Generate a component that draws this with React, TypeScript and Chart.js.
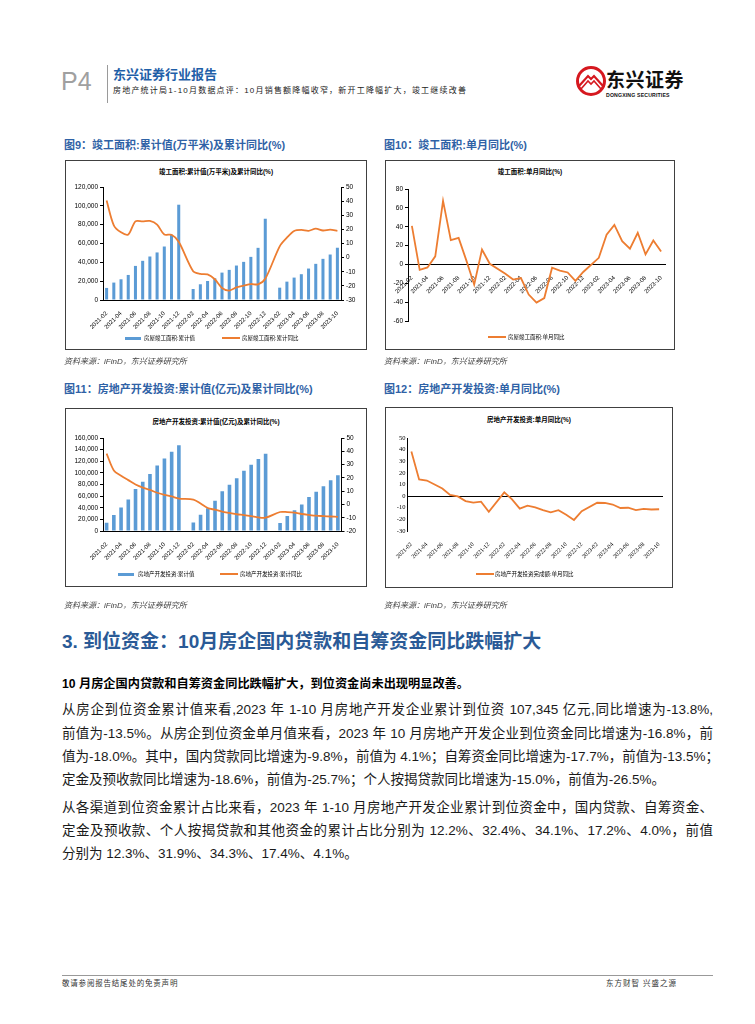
import React, { useEffect, useRef } from "react";
import { Chart, registerables } from "chart.js";

Chart.register(...registerables);

// ---------- data ----------
const categories = [
  "2021-02", "2021-03", "2021-04", "2021-05", "2021-06", "2021-07", "2021-08", "2021-09", "2021-10", "2021-11", "2021-12",
  "2022-01", "2022-02", "2022-03", "2022-04", "2022-05", "2022-06", "2022-07", "2022-08", "2022-09", "2022-10", "2022-11", "2022-12",
  "2023-01", "2023-02", "2023-03", "2023-04", "2023-05", "2023-06", "2023-07", "2023-08", "2023-09", "2023-10",
];

// 图9 竣工面积 累计值(万平米)
const completionCumValue = [
  12800, 18500, 22000, 26600, 36200, 41600, 46200, 50500, 56800, 69300, 101200,
  null,
  11700, 16700, 20200, 23100, 29100, 32000, 36600, 40500, 45800, 55400, 86300,
  null,
  13100, 19500, 23800, 27400, 33400, 38400, 43700, 48300, 55500,
];
// 图9 竣工面积 累计同比(%)
const completionCumYoY = [
  40.4, 22.9, 17.9, 16.4, 25.7, 25.7, 26.0, 23.4, 16.3, 16.2, 11.2,
  null,
  -9.6, -11.5, -11.9, -15.3, -21.5, -23.3, -21.1, -19.9, -18.7, -18.9, -15.0,
  null,
  8.0, 14.1, 18.8, 19.6, 19.0, 20.5, 19.2, 19.8, 19.0,
];
// 图10 竣工面积 单月同比(%)
const completionMonthlyYoY = [
  40.8, -5.7, -3.2, 8.6, 67.5, 25.7, 28.2, 4.0, -21.5, 15.7, 0.7,
  null,
  -10.0, -16.0, -14.5, -32.0, -40.5, -35.7, -3.5, -6.5, -8.5, -17.5, -8.0,
  null,
  7.0, 31.6, 42.0, 24.6, 16.7, 33.6, 10.7, 25.4, 13.6,
];
// 图11 房地产开发投资 累计值(亿元)
const investCumValue = [
  13986, 27576, 40240, 54318, 72179, 84895, 98060, 112568, 124934, 136443, 147602,
  null,
  14499, 27765, 39154, 52134, 68314, 79462, 90809, 103559, 113945, 123863, 132895,
  null,
  13669, 25974, 35514, 45701, 58550, 67717, 76900, 87269, 95922,
];
// 图11 房地产开发投资 累计同比(%)
const investCumYoY = [
  38.3, 25.6, 21.6, 18.3, 15.0, 12.7, 10.9, 8.8, 7.2, 6.0, 4.4,
  null,
  3.7, 0.7, -2.7, -4.0, -5.4, -6.4, -7.4, -8.0, -8.8, -9.8, -10.0,
  null,
  -5.7, -5.8, -6.2, -7.2, -7.9, -8.5, -8.8, -9.1, -9.3,
];
// 图12 房地产开发投资 单月同比(%)
const investMonthlyYoY = [
  38.3, 14.3, 13.4, 10.0, 6.6, 1.0, -0.3, -4.3, -5.6, -4.8, -13.4,
  null,
  3.2, -2.8, -10.8, -8.2, -9.6, -12.0, -14.0, -12.1, -16.1, -20.5, -13.0,
  null,
  -5.7, -5.9, -7.2, -10.2, -10.0, -12.0, -10.9, -11.5, -11.3,
];

const leftTicks9 = { min: 0, max: 120000, step: 20000 };
const rightTicks9 = { min: -30, max: 50, step: 10 };
const ticks10 = { min: -60, max: 80, step: 20 };
const leftTicks11 = { min: 0, max: 160000, step: 20000 };
const rightTicks11 = { min: -20, max: 50, step: 10 };
const ticks12 = { min: -30, max: 50, step: 10 };

// ---------- styles ----------
const BLUE_BAR = "#5b9bd5";
const ORANGE = "#ed7d31";
const SANS = '"Liberation Sans", "Noto Sans CJK SC", sans-serif';
const SERIF = '"Liberation Serif", "Noto Sans CJK SC", serif';
const CJK = '"Liberation Sans", "Noto Sans CJK SC", sans-serif';
const TITLE_BLUE = "#2f62a6";

const xTickCallback = (_v: any, i: number) => (i % 2 === 0 ? categories[i] : "");

function xAxis(extra: any, family: string, height: number) {
  return {
    offset: true,
    grid: { display: false },
    border: { display: true, color: "#000", width: 1 },
    ticks: {
      autoSkip: false,
      minRotation: 45,
      maxRotation: 45,
      padding: 2,
      color: "#000",
      font: { family, size: 6 },
      callback: xTickCallback,
    },
    afterFit: (s: any) => {
      s.height = height;
    },
    ...extra,
  };
}

function yAxis(r: { min: number; max: number; step: number }, position: string, width: number, fmt?: (v: number) => string, family = SANS, extra: any = {}) {
  return {
    position,
    min: r.min,
    max: r.max,
    grid: { drawOnChartArea: false, drawTicks: true, tickLength: 3, color: "#000" },
    border: { display: true, color: "#000", width: 1 },
    ticks: {
      stepSize: r.step,
      padding: 2,
      color: "#000",
      font: { family, size: 6.5 },
      callback: (v: any) => (fmt ? fmt(Number(v)) : String(v)),
    },
    afterFit: (s: any) => {
      s.width = width;
    },
    ...extra,
  };
}

const comma = (v: number) => v.toLocaleString("en-US");

const baseOptions = (padding: any) => ({
  responsive: true,
  maintainAspectRatio: false,
  animation: false as const,
  layout: { padding },
  plugins: { legend: { display: false }, title: { display: false }, tooltip: { enabled: false } },
});

function config9() {
  return {
    type: "bar",
    data: {
      labels: categories,
      datasets: [
        {
          type: "line",
          label: "房屋竣工面积:累计同比",
          data: completionCumYoY,
          yAxisID: "y1",
          borderColor: ORANGE,
          borderWidth: 1.8,
          pointRadius: 0,
          spanGaps: true,
          tension: 0.3,
          order: 1,
        },
        {
          type: "bar",
          label: "房屋竣工面积:累计值",
          data: completionCumValue,
          yAxisID: "y",
          backgroundColor: BLUE_BAR,
          barPercentage: 0.42,
          categoryPercentage: 1,
          order: 2,
        },
      ],
    },
    options: {
      ...baseOptions({ top: 26, bottom: 19, left: 0, right: 0 }),
      scales: {
        x: xAxis({}, SANS, 30),
        y: yAxis(leftTicks9, "left", 37, comma),
        y1: yAxis(rightTicks9, "right", 25),
      },
    },
  };
}

function config10() {
  return {
    type: "line",
    data: {
      labels: categories,
      datasets: [
        {
          label: "房屋竣工面积:单月同比",
          data: completionMonthlyYoY,
          borderColor: ORANGE,
          borderWidth: 1.8,
          pointRadius: 0,
          spanGaps: true,
          tension: 0,
        },
      ],
    },
    options: {
      ...baseOptions({ top: 28, bottom: 28, left: 0, right: 9 }),
      scales: {
        x: xAxis({ position: { y: 0 } }, SANS, 30),
        y: yAxis(ticks10, "left", 22),
      },
    },
  };
}

function config11() {
  return {
    type: "bar",
    data: {
      labels: categories,
      datasets: [
        {
          type: "line",
          label: "房地产开发投资:累计同比",
          data: investCumYoY,
          yAxisID: "y1",
          borderColor: ORANGE,
          borderWidth: 1.8,
          pointRadius: 0,
          spanGaps: true,
          tension: 0.3,
          order: 1,
        },
        {
          type: "bar",
          label: "房地产开发投资:累计值",
          data: investCumValue,
          yAxisID: "y",
          backgroundColor: BLUE_BAR,
          barPercentage: 0.5,
          categoryPercentage: 1,
          order: 2,
        },
      ],
    },
    options: {
      ...baseOptions({ top: 29, bottom: 25, left: 0, right: 0 }),
      scales: {
        x: xAxis({}, SANS, 30),
        y: yAxis(leftTicks11, "left", 37, comma),
        y1: yAxis(rightTicks11, "right", 24.5),
      },
    },
  };
}

function config12() {
  return {
    type: "line",
    data: {
      labels: categories,
      datasets: [
        {
          label: "房地产开发投资完成额:单月同比",
          data: investMonthlyYoY,
          borderColor: ORANGE,
          borderWidth: 1.8,
          pointRadius: 0,
          spanGaps: true,
          tension: 0,
        },
      ],
    },
    options: {
      ...baseOptions({ top: 30, bottom: 28, left: 0, right: 9 }),
      scales: {
        x: xAxis({ border: { display: false } }, SERIF, 28),
        y: {
          ...yAxis(ticks12, "left", 21.5, undefined, SERIF),
          grid: {
            drawOnChartArea: true,
            drawTicks: false,
            color: (c: any) => (c.tick && c.tick.value === 0 ? "#000" : "rgba(0,0,0,0)"),
          },
        },
      },
    },
  };
}

// ---------- components ----------
function ChartCanvas({ left, top, width, height, make }: { left: number; top: number; width: number; height: number; make: () => any }) {
  const ref = useRef<HTMLCanvasElement>(null);
  useEffect(() => {
    const chart = new Chart(ref.current as HTMLCanvasElement, make() as any);
    return () => chart.destroy();
  }, []);
  return (
    <div style={{ position: "absolute", left, top, width, height }}>
      <canvas ref={ref} />
    </div>
  );
}

type LegendItem = { kind: "bar" | "line"; color: string; text: string; x: number; textX: number };

function ChartLegend({ y, items }: { y: number; items: LegendItem[] }) {
  return (
    <>
      {items.map((it, i) => (
        <React.Fragment key={i}>
          <div
            style={{
              position: "absolute",
              left: it.x,
              top: it.kind === "bar" ? y - 1.5 : y - 1,
              width: it.kind === "bar" ? 16 : 18,
              height: it.kind === "bar" ? 3 : 2,
              background: it.color,
            }}
          />
          <div
            style={{
              position: "absolute",
              left: it.textX,
              top: y - 4,
              fontSize: 5.5,
              lineHeight: "8px",
              fontFamily: CJK,
              color: "#000",
              whiteSpace: "nowrap",
            }}
          >
            {it.text}
          </div>
        </React.Fragment>
      ))}
    </>
  );
}

function ChartTitle({ cx, y, text }: { cx: number; y: number; text: string }) {
  return (
    <div
      style={{
        position: "absolute",
        left: cx - 150,
        width: 300,
        top: y - 5,
        textAlign: "center",
        fontSize: 6.5,
        lineHeight: "10px",
        fontWeight: 700,
        fontFamily: CJK,
        color: "#000",
      }}
    >
      {text}
    </div>
  );
}

function Box({ left, top, width, height }: { left: number; top: number; width: number; height: number }) {
  return (
    <div
      style={{
        position: "absolute",
        left,
        top,
        width: width - 2,
        height: height - 2,
        border: "1px solid #404040",
      }}
    />
  );
}

function Text({ x, y, size, children, style }: { x: number; y: number; size: number; children: any; style?: any }) {
  return (
    <div
      style={{
        position: "absolute",
        left: x,
        top: y - size * 0.7,
        fontSize: size,
        lineHeight: `${size * 1.4}px`,
        whiteSpace: "nowrap",
        fontFamily: CJK,
        ...style,
      }}
    >
      {children}
    </div>
  );
}

const para1 = [
  "从房企到位资金累计值来看,2023 年 1-10 月房地产开发企业累计到位资 107,345 亿元,同比增速为-13.8%,",
  "前值为-13.5%。从房企到位资金单月值来看，2023 年 10 月房地产开发企业到位资金同比增速为-16.8%，前",
  "值为-18.0%。其中，国内贷款同比增速为-9.8%，前值为 4.1%；自筹资金同比增速为-17.7%，前值为-13.5%；",
  "定金及预收款同比增速为-18.6%，前值为-25.7%；个人按揭贷款同比增速为-15.0%，前值为-26.5%。",
];
const para2 = [
  "从各渠道到位资金累计占比来看，2023 年 1-10 月房地产开发企业累计到位资金中，国内贷款、自筹资金、",
  "定金及预收款、个人按揭贷款和其他资金的累计占比分别为 12.2%、32.4%、34.1%、17.2%、4.0%，前值",
  "分别为 12.3%、31.9%、34.3%、17.4%、4.1%。",
];
const para1Y = [710, 734, 757, 780];
const para2Y = [808, 831, 854];

function BodyLine({ y, text, justify }: { y: number; text: string; justify: boolean }) {
  return (
    <div
      style={{
        position: "absolute",
        left: 62,
        width: 651,
        top: y - 10,
        height: 20,
        fontSize: 13.5,
        lineHeight: "20px",
        fontFamily: CJK,
        color: "#1a1a1a",
        textAlign: justify ? "justify" : "left",
        textAlignLast: justify ? "justify" : "left",
        whiteSpace: "nowrap",
      } as any}
    >
      {text}
    </div>
  );
}

function Logo() {
  return (
    <svg style={{ position: "absolute", left: 575, top: 64 }} width="32" height="34" viewBox="0 0 32 34">
      <circle cx="16" cy="17" r="13.5" fill="none" stroke="#d6181f" strokeWidth="3" />
      <path d="M4 22 L13 12 L16 15 L19 12 L28 22" fill="none" stroke="#d6181f" strokeWidth="2.2" />
      <path d="M6 25 L13 17 L16 20 L19 17 L26 25" fill="none" stroke="#d6181f" strokeWidth="1.6" />
    </svg>
  );
}

export default function App() {
  return (
    <div
      style={{
        position: "absolute",
        left: 0,
        top: 0,
        width: 755,
        height: 1024,
        background: "#fff",
        overflow: "hidden",
        fontFamily: CJK,
      }}
    >
      {/* header */}
      <Text x={61} y={81} size={25} style={{ color: "#a0a0a0", fontWeight: 300, fontFamily: SANS }}>
        P4
      </Text>
      <div style={{ position: "absolute", left: 107, top: 65, width: 1, height: 38, background: "#9a9a9a" }} />
      <Text x={113} y={75} size={13} style={{ color: "#1f5fa8", fontWeight: 700 }}>
        东兴证券行业报告
      </Text>
      <Text x={113} y={91} size={8} style={{ color: "#222", letterSpacing: "1.2px" }}>
        房地产统计局1-10月数据点评：10月销售额降幅收窄，新开工降幅扩大，竣工继续改善
      </Text>
      <Logo />
      <Text x={606} y={81} size={19} style={{ color: "#111", fontWeight: 700, letterSpacing: "0.5px" }}>
        东兴证券
      </Text>
      <Text x={606} y={96} size={5.2} style={{ color: "#111", fontWeight: 700, fontFamily: SANS, letterSpacing: "0.15px" }}>
        DONGXING SECURITIES
      </Text>

      {/* figure titles */}
      <Text x={64} y={146} size={11} style={{ color: TITLE_BLUE, fontWeight: 700 }}>
        图9：竣工面积:累计值(万平米)及累计同比(%)
      </Text>
      <Text x={384} y={146} size={11} style={{ color: TITLE_BLUE, fontWeight: 700 }}>
        图10：竣工面积:单月同比(%)
      </Text>
      <Text x={64} y={390} size={11} style={{ color: TITLE_BLUE, fontWeight: 700 }}>
        图11：房地产开发投资:累计值(亿元)及累计同比(%)
      </Text>
      <Text x={384} y={390} size={11} style={{ color: TITLE_BLUE, fontWeight: 700 }}>
        图12：房地产开发投资:单月同比(%)
      </Text>

      {/* chart 9 */}
      <Box left={65} top={160} width={302} height={190} />
      <ChartTitle cx={216} y={172} text="竣工面积:累计值(万平米)及累计同比(%)" />
      <ChartCanvas left={66} top={161} width={300} height={188} make={config9} />
      <ChartLegend
        y={338}
        items={[
          { kind: "bar", color: BLUE_BAR, text: "房屋竣工面积:累计值", x: 125, textX: 144 },
          { kind: "line", color: ORANGE, text: "房屋竣工面积:累计同比", x: 222, textX: 242 },
        ]}
      />

      {/* chart 10 */}
      <Box left={385} top={160} width={290} height={190} />
      <ChartTitle cx={530} y={172} text="竣工面积:单月同比(%)" />
      <ChartCanvas left={386} top={161} width={288} height={188} make={config10} />
      <ChartLegend
        y={337}
        items={[{ kind: "line", color: ORANGE, text: "房屋竣工面积:单月同比", x: 488, textX: 508 }]}
      />

      {/* sources */}
      <Text x={64} y={362} size={8} style={{ color: "#444", fontStyle: "italic" }}>
        资料来源：iFinD，东兴证券研究所
      </Text>
      <Text x={384} y={362} size={8} style={{ color: "#444", fontStyle: "italic" }}>
        资料来源：iFinD，东兴证券研究所
      </Text>

      {/* chart 11 */}
      <Box left={65} top={408} width={302} height={179} />
      <ChartTitle cx={216} y={422} text="房地产开发投资:累计值(亿元)及累计同比(%)" />
      <ChartCanvas left={66} top={409} width={300} height={177} make={config11} />
      <ChartLegend
        y={574}
        items={[
          { kind: "bar", color: BLUE_BAR, text: "房地产开发投资:累计值", x: 118, textX: 138 },
          { kind: "line", color: ORANGE, text: "房地产开发投资:累计同比", x: 220, textX: 240 },
        ]}
      />

      {/* chart 12 */}
      <Box left={385} top={407} width={288} height={181} />
      <ChartTitle cx={529} y={420} text="房地产开发投资:单月同比(%)" />
      <ChartCanvas left={386} top={408} width={286} height={179} make={config12} />
      <ChartLegend
        y={574}
        items={[{ kind: "line", color: ORANGE, text: "房地产开发投资完成额:单月同比", x: 476, textX: 495 }]}
      />

      <Text x={64} y={606} size={8} style={{ color: "#444", fontStyle: "italic" }}>
        资料来源：iFinD，东兴证券研究所
      </Text>
      <Text x={384} y={606} size={8} style={{ color: "#444", fontStyle: "italic" }}>
        资料来源：iFinD，东兴证券研究所
      </Text>

      {/* section */}
      <Text x={62} y={642} size={19} style={{ color: "#2a5a96", fontWeight: 700 }}>
        3. 到位资金：10月房企国内贷款和自筹资金同比跌幅扩大
      </Text>
      <Text x={62} y={685} size={12.2} style={{ color: "#000", fontWeight: 700 }}>
        10 月房企国内贷款和自筹资金同比跌幅扩大，到位资金尚未出现明显改善。
      </Text>
      {para1.map((t, i) => (
        <BodyLine key={"a" + i} y={para1Y[i]} text={t} justify={i < para1.length - 1} />
      ))}
      {para2.map((t, i) => (
        <BodyLine key={"b" + i} y={para2Y[i]} text={t} justify={i < para2.length - 1} />
      ))}

      {/* footer */}
      <div style={{ position: "absolute", left: 62, top: 975, width: 651, height: 1, background: "#999" }} />
      <Text x={62} y={984} size={7.5} style={{ color: "#333", letterSpacing: "0.8px" }}>
        敬请参阅报告结尾处的免责声明
      </Text>
      <Text x={606} y={984} size={7.5} style={{ color: "#333", letterSpacing: "1px" }}>
        东方财智 兴盛之源
      </Text>
    </div>
  );
}
